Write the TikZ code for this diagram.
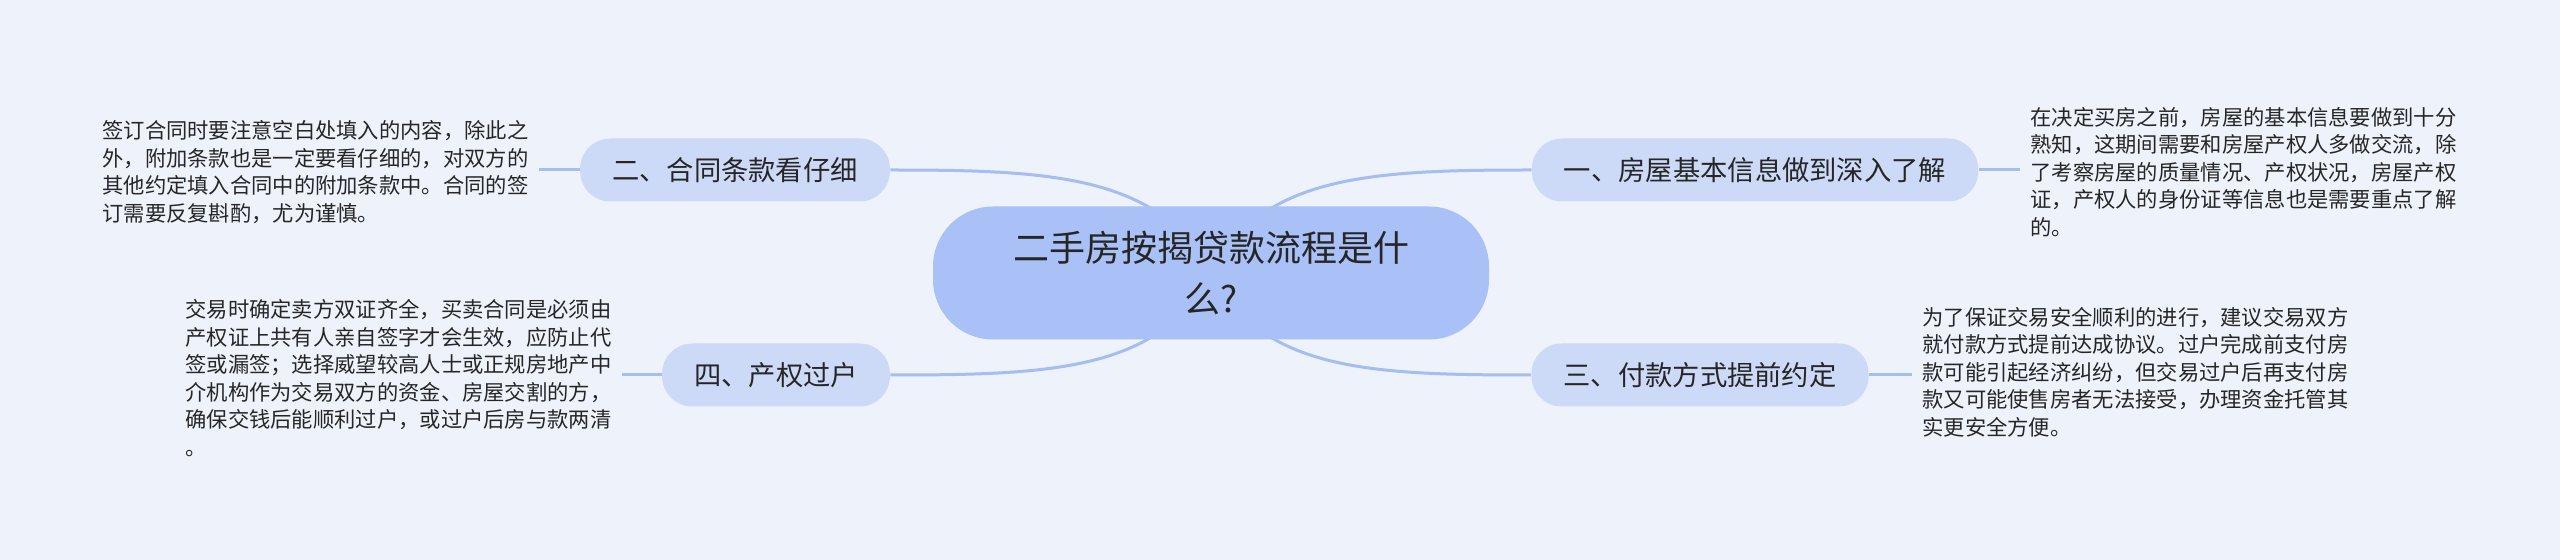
\documentclass[tikz,border=0pt]{standalone}
\usepackage{fontspec}
\setmainfont{Noto Sans CJK SC}
\usepackage{tikz}
\definecolor{bgc}{HTML}{EEF2FB}
\definecolor{rootc}{HTML}{A9C1F7}
\definecolor{topicc}{HTML}{CCDAF8}
\definecolor{linec}{HTML}{A6BDF1}
\definecolor{txtc}{HTML}{262626}
\pgfdeclarelayer{back}
\pgfsetlayers{back,main}

\begin{document}
\begin{tikzpicture}[x=0.5pt, y=-0.5pt,
    root/.style={fill=rootc, rounded corners=30pt, minimum height=66.5pt, inner xsep=40pt, inner ysep=0pt, align=center, font=\fontsize{18}{25.5}\selectfont, text=txtc},
    topic/.style={fill=topicc, rounded corners=15pt, minimum height=31.5pt, inner xsep=16pt, inner ysep=0pt, font=\fontsize{13.65}{16}\selectfont, text=txtc},
    note/.style={anchor=west, align=left, inner xsep=5pt, inner ysep=0pt, font=\fontsize{10.65}{13.75}\selectfont, text=txtc},
    link/.style={draw=linec, line width=1.5pt}]

    \useasboundingbox (0,0) rectangle (2560,560);

    \node[root] (root) at (1211, 273) {二手房按揭贷款流程是什\\么?};
    \node[topic] (h1) at (1755, 170) {一、房屋基本信息做到深入了解};
    \node[topic] (h2) at (735, 170) {二、合同条款看仔细};
    \node[topic] (h3) at (1700, 375) {三、付款方式提前约定};
    \node[topic] (h4) at (776, 375) {四、产权过户};

    \node[note] (t1) at (2020, 172) {在决定买房之前，房屋的基本信息要做到十分\\熟知，这期间需要和房屋产权人多做交流，除\\了考察房屋的质量情况、产权状况，房屋产权\\证，产权人的身份证等信息也是需要重点了解\\的。};
    \node[note] (t2) at (92, 172) {签订合同时要注意空白处填入的内容，除此之\\外，附加条款也是一定要看仔细的，对双方的\\其他约定填入合同中的附加条款中。合同的签\\订需要反复斟酌，尤为谨慎。};
    \node[note] (t3) at (1912, 372) {为了保证交易安全顺利的进行，建议交易双方\\就付款方式提前达成协议。过户完成前支付房\\款可能引起经济纠纷，但交易过户后再支付房\\款又可能使售房者无法接受，办理资金托管其\\实更安全方便。};
    \node[note] (t4) at (175, 378) {交易时确定卖方双证齐全，买卖合同是必须由\\产权证上共有人亲自签字才会生效，应防止代\\签或漏签；选择威望较高人士或正规房地产中\\介机构作为交易双方的资金、房屋交割的方，\\确保交钱后能顺利过户，或过户后房与款两清\\。};

    \begin{pgfonlayer}{back}
    \fill[bgc] (0,0) rectangle (2560,560);
    \draw[link] (h1.west) .. controls +(-160,0) and +(51,-98) .. (root.center);
    \draw[link] (h2.east) .. controls +(160,0) and +(-51,-98) .. (root.center);
    \draw[link] (h3.west) .. controls +(-160,0) and +(51,98) .. (root.center);
    \draw[link] (h4.east) .. controls +(160,0) and +(-51,98) .. (root.center);
    \draw[link] (h1.east) -- (h1.east -| t1.west);
    \draw[link] (h2.west) -- (h2.west -| t2.east);
    \draw[link] (h3.east) -- (h3.east -| t3.west);
    \draw[link] (h4.west) -- (h4.west -| t4.east);
    \end{pgfonlayer}

\end{tikzpicture}
\end{document}
